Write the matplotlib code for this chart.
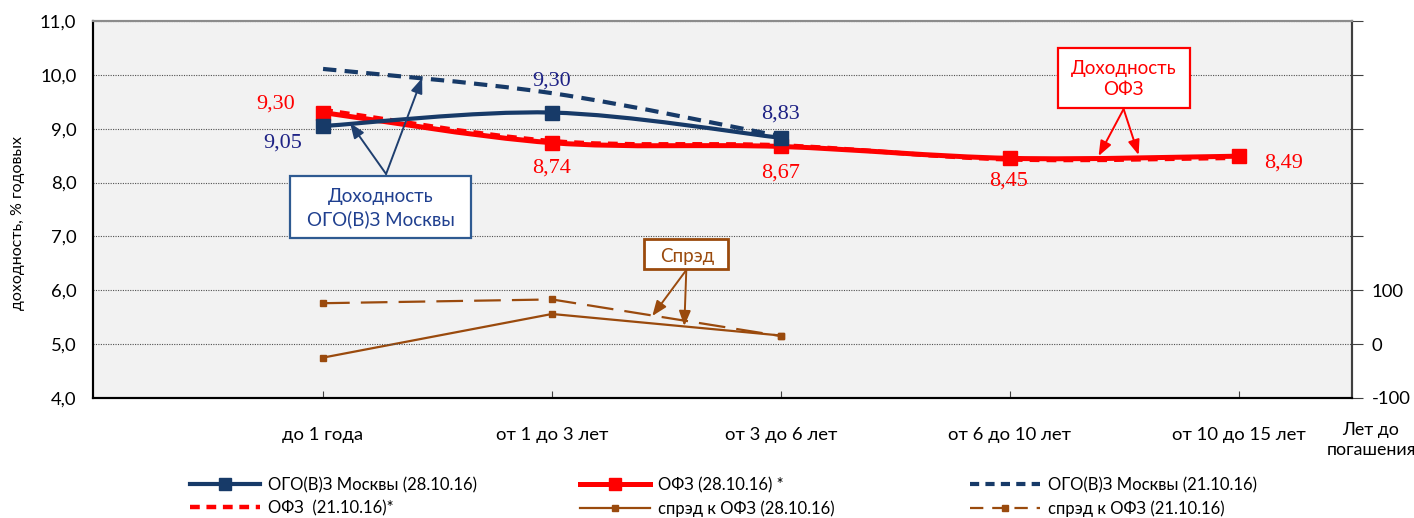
import numpy as np
import matplotlib
matplotlib.use('Agg')
import matplotlib.pyplot as plt
from matplotlib.path import Path
from matplotlib.patches import PathPatch, Rectangle
from matplotlib.lines import Line2D
from matplotlib.ticker import FuncFormatter

# ---------------- data ----------------
categories = ['до 1 года', 'от 1 до 3 лет', 'от 3 до 6 лет', 'от 6 до 10 лет', 'от 10 до 15 лет']
ogo_2810 = [9.05, 9.30, 8.83]
ofz_2810 = [9.30, 8.74, 8.67, 8.45, 8.49]
ogo_2110 = [10.11, 9.66, 8.86]
ofz_2110 = [9.35, 8.77, 8.69, 8.43, 8.46]
spread_2810 = [-25, 56, 16]
spread_2110 = [76, 83, 15]
left_ticks = [4, 5, 6, 7, 8, 9, 10, 11]
right_ticks = [-100, 0, 100, 200, 300, 400, 500, 600]

BLUE = '#173A68'
RED = '#FF0000'
BROWN = '#9A4A0D'
LBLUE = '#1F3F8F'
NAVY = '#1E2285'

SANS = ['Lato', 'DejaVu Sans']
SERIF = ['Liberation Serif', 'DejaVu Serif']
plt.rcParams['font.family'] = SANS


def smooth_path(xs, ys):
    pts = np.column_stack([xs, ys]).astype(float)
    n = len(pts)
    verts = [pts[0]]
    codes = [Path.MOVETO]
    for i in range(n - 1):
        p0 = pts[i - 1] if i > 0 else pts[i]
        p1 = pts[i]
        p2 = pts[i + 1]
        p3 = pts[i + 2] if i + 2 < n else pts[i + 1]
        c1 = p1 + (p2 - p0) / 6.0
        c2 = p2 - (p3 - p1) / 6.0
        verts += [c1, c2, p2]
        codes += [Path.CURVE4] * 3
    return Path(verts, codes)


fig = plt.figure(figsize=(14.14, 5.18), dpi=100)
W, H = 1414, 518
ax = fig.add_axes([93 / W, 1 - 398 / H, (1352 - 93) / W, (398 - 21) / H])
ax.set_xlim(-1.005, 4.495)
ax.set_ylim(4, 11)

ax2 = ax.twinx()
ax2.set_ylim(-100, 600)

x5 = np.arange(len(categories))
x3 = np.arange(len(ogo_2810))

# grid
ax.set_yticks(left_ticks)
ax.yaxis.set_major_formatter(FuncFormatter(lambda v, p: f'{v:.1f}'.replace('.', ',')))
ax.grid(axis='y', color='#505050', linestyle=(0, (1, 1.2)), linewidth=0.8)
ax.set_axisbelow(True)

# ОФЗ 28.10 (smoothed)
ax.add_patch(PathPatch(smooth_path(x5, ofz_2810), fill=False, edgecolor=RED, lw=3.6,
                       capstyle='butt', zorder=3))
ax.plot(x5, ofz_2810, ls='none', marker='s', ms=10, color=RED, zorder=4)
# ОФЗ 21.10 dashed
ax.add_patch(PathPatch(smooth_path(x5, ofz_2110), fill=False, edgecolor=RED, lw=3.2,
                       linestyle=(0, (2.2, 1.6)), capstyle='butt', zorder=4))
# ОГО 28.10
ax.add_patch(PathPatch(smooth_path(x3, ogo_2810), fill=False, edgecolor=BLUE, lw=3.0,
                       capstyle='butt', zorder=5))
ax.plot(x3, ogo_2810, ls='none', marker='s', ms=10, color=BLUE, zorder=5)
# ОГО 21.10 dashed
ax.add_patch(PathPatch(smooth_path(x3, ogo_2110), fill=False, edgecolor=BLUE, lw=3.0,
                       linestyle=(0, (3.2, 2.0)), capstyle='butt', zorder=5))

# spreads on secondary axis
ax2.plot(x3, spread_2810, color=BROWN, lw=1.6, marker='s', ms=5)
ax2.plot(x3, spread_2110, color=BROWN, lw=1.6, marker='s', ms=5, dashes=(12, 5))

# data labels
lab_off = {
    'ofz': [(-34, 6), (0, -18), (0, -19), (-1, -16), (32, -5)],
    'ogo': [(-29, -12), (0, 23), (0, 17)],
}
for i, v in enumerate(ofz_2810):
    ax.annotate(f'{v:.2f}'.replace('.', ','), xy=(x5[i], v), xytext=lab_off['ofz'][i],
                textcoords='offset points', ha='center', va='center', color=RED,
                fontsize=16, family=SERIF, zorder=7)
for i, v in enumerate(ogo_2810):
    ax.annotate(f'{v:.2f}'.replace('.', ','), xy=(x3[i], v), xytext=lab_off['ogo'][i],
                textcoords='offset points', ha='center', va='center', color=NAVY,
                fontsize=16, family=SERIF, zorder=7)

# callout boxes (positioned in the chart's data coordinates)
def px2d(px, py):
    return ((px - 323) / 228.75, (398 - py) / 53.86 + 4)

def box(x0, y0, x1, y1, ec, lw):
    a = px2d(x0, y1)
    b = px2d(x1, y0)
    ax.add_patch(Rectangle(a, b[0] - a[0], b[1] - a[1], facecolor='white', edgecolor=ec,
                           lw=lw, zorder=8))

def arrow(start, end, color):
    ax.annotate('', xy=px2d(*end), xytext=px2d(*start),
                arrowprops=dict(arrowstyle='-|>,head_length=0.9,head_width=0.35', color=color,
                                lw=1.4, shrinkA=0, shrinkB=0), zorder=9)

box(290, 176, 471, 238, '#2E5A91', 1.6)
ax.text(*px2d(381, 208), 'Доходность\nОГО(В)З Москвы', ha='center', va='center',
        color=LBLUE, fontsize=13.5, linespacing=1.3, zorder=9)
arrow((386, 174), (350, 123), '#1F3F6F')
arrow((386, 174), (422, 78), '#1F3F6F')

box(1057, 48, 1189, 108, RED, 1.6)
ax.text(*px2d(1123, 79), 'Доходность\nОФЗ', ha='center', va='center',
        color=RED, fontsize=13.5, linespacing=1.3, zorder=9)
arrow((1123, 109), (1098, 156), RED)
arrow((1123, 109), (1138, 155), RED)

box(644, 239, 728, 269, BROWN, 2.0)
ax.text(*px2d(687, 256), 'Спрэд', ha='center', va='center',
        color=BROWN, fontsize=13.5, zorder=9)
arrow((686, 270), (652, 316), BROWN)
arrow((686, 270), (684, 326), BROWN)

# axes styling
ax.set_xticks(x5)
ax.set_xticklabels(categories, fontsize=13.3)
ax.tick_params(axis='x', direction='in', length=5, pad=21, color='#404040')
ax.tick_params(axis='y', length=0, pad=12, labelsize=13.3)
ax2.set_yticks(right_ticks)
ax2.yaxis.set_major_formatter(FuncFormatter(lambda v, p: f'{int(v)}' if v <= 100 else ''))
ax2.tick_params(axis='y', direction='out', length=8, pad=6, labelsize=13.3, color='#404040')
for a in (ax, ax2):
    a.spines['left'].set_color('#000000')
    a.spines['bottom'].set_color('#000000')
    a.spines['top'].set_color('#8C8C8C')
    a.spines['right'].set_color('#404040')
    for s in a.spines.values():
        s.set_linewidth(1.5)
ax.set_zorder(ax2.get_zorder() + 1)
ax.patch.set_visible(False)
ax2.patch.set_visible(True)
ax2.patch.set_facecolor('#F2F2F2')
ax2.grid(False)

fig.text(18 / W, 1 - 223 / H, 'доходность, % годовых', rotation=90, ha='center', va='center',
         fontsize=11.5)
fig.text(1371 / W, 1 - 440 / H, 'Лет до\nпогашения', ha='center', va='center',
         fontsize=12.8, linespacing=1.3)

# legend (three equal-width columns like Excel)
h_ogo28 = Line2D([], [], color=BLUE, lw=3.0, marker='s', ms=8)
h_ofz28 = Line2D([], [], color=RED, lw=3.6, marker='s', ms=8)
h_ogo21 = Line2D([], [], color=BLUE, lw=3.0, dashes=(2.2, 1.5))
h_ofz21 = Line2D([], [], color=RED, lw=3.2, dashes=(2.2, 1.5))
h_sp28 = Line2D([], [], color=BROWN, lw=1.6, marker='s', ms=5)
h_sp21 = Line2D([], [], color=BROWN, lw=1.6, marker='s', ms=5, dashes=(6, 4))
cols = [
    ([h_ogo28, h_ofz21], ['ОГО(В)З Москвы (28.10.16)', 'ОФЗ  (21.10.16)*'], 190),
    ([h_ofz28, h_sp28], ['ОФЗ (28.10.16) *', 'спрэд к ОФЗ (28.10.16)'], 580),
    ([h_ogo21, h_sp21], ['ОГО(В)З Москвы (21.10.16)', 'спрэд к ОФЗ (21.10.16)'], 970),
]
for hs, ls, xpx in cols:
    fig.legend(hs, ls, loc='upper left', bbox_to_anchor=(xpx / W, 1 - 477 / H),
               frameon=False, fontsize=12, handlelength=4.2, handletextpad=0.5,
               borderpad=0, borderaxespad=0, labelspacing=0.42, numpoints=1)

fig.savefig('out.png', dpi=100)
